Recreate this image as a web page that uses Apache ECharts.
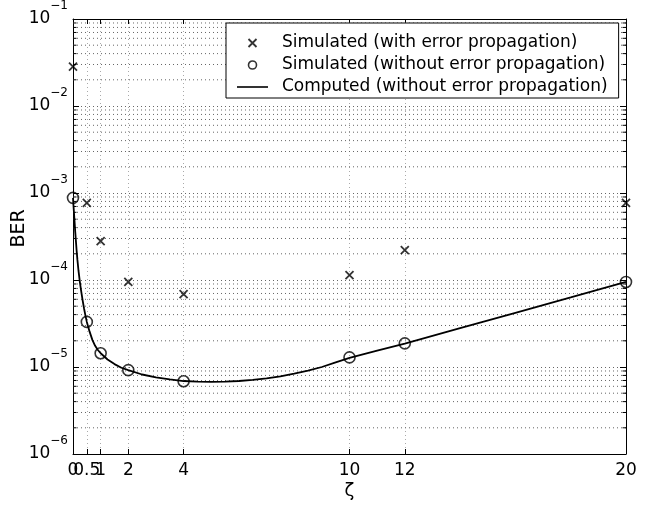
<!DOCTYPE html>
<html>
<head>
<meta charset="utf-8">
<script src="https://cdn.jsdelivr.net/npm/echarts@6/dist/echarts.min.js"></script>
<style>html,body{margin:0;padding:0;background:#fff}#c{width:653px;height:506px}</style>
</head>
<body>
<div id="c"></div>
<script>
// ---- data ----
const xTicks = [0, 0.5, 1, 2, 4, 10, 12, 20];
const xLabelsMain = [0, 1, 2, 4, 10, 12, 20];
const xLabelsExtra = [0.5];
const simX = [0, 0.5, 1, 2, 4, 10, 12, 20];
const simWithErr = [2.83e-2, 7.7e-4, 2.8e-4, 9.5e-5, 6.9e-5, 1.14e-4, 2.2e-4, 7.7e-4];
const simWithoutErr = [8.8e-4, 3.3e-5, 1.44e-5, 9.2e-6, 6.85e-6, 1.29e-5, 1.87e-5, 9.5e-5];
const compX = [0, 0.02, 0.04, 0.06, 0.08, 0.1, 0.13, 0.16, 0.2, 0.25, 0.3, 0.35, 0.4, 0.45, 0.5, 0.6, 0.7, 0.8, 0.9, 1.0,
  1.25, 1.5, 1.75, 2.0, 2.5, 3.0, 3.5, 4.0, 4.5, 5, 5.5, 6, 6.5, 7, 7.5, 8, 8.5, 9, 9.5, 10, 11, 12, 14, 16, 18, 20];
const compY = [8.8e-4, 7.0e-4, 5.6e-4, 4.5e-4, 3.6e-4, 2.95e-4, 2.2e-4, 1.7e-4, 1.27e-4, 9.4e-5, 7.3e-5, 5.8e-5, 4.7e-5, 3.9e-5, 3.3e-5, 2.55e-5, 2.05e-5, 1.75e-5, 1.57e-5, 1.44e-5,
  1.22e-5, 1.08e-5, 9.8e-6, 9.2e-6, 8.2e-6, 7.6e-6, 7.2e-6, 6.9e-6, 6.8e-6, 6.75e-6, 6.78e-6, 6.9e-6, 7.1e-6, 7.4e-6, 7.8e-6, 8.4e-6, 9.1e-6, 1.0e-5, 1.13e-5, 1.27e-5, 1.54e-5, 1.86e-5, 2.8e-5, 4.2e-5, 6.3e-5, 9.5e-5];
const yMin = 1e-6, yMax = 1e-1;
const seriesNames = ['Simulated (with error propagation)', 'Simulated (without error propagation)', 'Computed (without error propagation)'];
// minor log ticks (2..9 in each decade)
const minorTicks = [];
for (let e = -6; e < -1; e++) for (let d = 2; d <= 9; d++) minorTicks.push(d * Math.pow(10, e));

const FONT = 'DejaVu Sans, Liberation Sans, Arial, sans-serif';
const crossPath = 'path://M0,0L10,10M10,0L0,10';
const barPath = 'path://M0,0L31,0L31,1.6L0,1.6Z';

const chart = echarts.init(document.getElementById('c'), null, {renderer: 'canvas'});
const sup = v => {
  const k = Math.round(Math.log10(v));
  return '{b|10}{e|' + (k < 0 ? '\u2212' + (-k) : k) + '}';
};
const xLabelStyle = {margin: 8, fontSize: 17, color: '#000', fontFamily: FONT, hideOverlap: false};
const option = {
  backgroundColor: '#fff',
  animation: false,
  textStyle: {fontFamily: FONT},
  grid: {left: 73, right: 27, top: 19, bottom: 52, containLabel: false, outerBoundsMode: 'none'},
  xAxis: [{
    type: 'value', min: 0, max: 20, position: 'bottom',
    name: '\u03b6', nameLocation: 'middle', nameGap: 28, nameMoveOverlap: false,
    nameTextStyle: {fontSize: 18, color: '#000', fontFamily: FONT},
    axisLine: {show: true, onZero: false, lineStyle: {color: '#000', width: 1}},
    axisTick: {show: true, inside: true, length: 5, customValues: xTicks, lineStyle: {color: '#000'}},
    axisLabel: Object.assign({show: true, customValues: xLabelsMain, showMinLabel: true, showMaxLabel: true}, xLabelStyle),
    splitLine: {show: true, lineStyle: {color: '#aaa', type: [1, 3], width: 1}}
  }, {
    type: 'value', min: 0, max: 20, position: 'top',
    axisLine: {show: true, onZero: false, lineStyle: {color: '#000', width: 1}},
    axisTick: {show: true, inside: true, length: 5, customValues: xTicks, lineStyle: {color: '#000'}},
    axisLabel: {show: false},
    splitLine: {show: false}
  }, {
    type: 'value', min: 0, max: 20, position: 'bottom', offset: 0,
    axisLine: {show: false, onZero: false},
    axisTick: {show: false, customValues: xLabelsExtra},
    axisLabel: Object.assign({show: true, customValues: xLabelsExtra, showMinLabel: true, showMaxLabel: true}, xLabelStyle),
    splitLine: {show: false}
  }],
  yAxis: [{
    type: 'log', logBase: 10, min: yMin, max: yMax, position: 'left',
    name: 'BER', nameLocation: 'middle', nameGap: 44, nameMoveOverlap: false,
    nameTextStyle: {fontSize: 19, color: '#000', fontFamily: FONT, padding: [0, 0, 0, 16]},
    axisLine: {show: true, onZero: false, lineStyle: {color: '#000', width: 1}},
    axisTick: {show: true, inside: true, length: 6, lineStyle: {color: '#000'}},
    axisLabel: {
      show: true, margin: 5, color: '#000', fontFamily: FONT,
      formatter: sup,
      rich: {
        b: {fontSize: 17, lineHeight: 38, fontFamily: FONT, color: '#000'},
        e: {fontSize: 12, lineHeight: 16, verticalAlign: 'top', fontFamily: FONT, color: '#000'}
      }
    },
    splitLine: {show: true, lineStyle: {color: '#666', type: [1, 3], width: 1}}
  }, {
    type: 'log', logBase: 10, min: yMin, max: yMax, position: 'right',
    axisLine: {show: true, onZero: false, lineStyle: {color: '#000', width: 1}},
    axisTick: {show: true, inside: true, length: 6, lineStyle: {color: '#000'}},
    axisLabel: {show: false},
    splitLine: {show: false}
  }],
  legend: {
    show: true, orient: 'vertical', left: 226, top: 23,
    padding: [10, 11, 1, 11], itemGap: 2, itemWidth: 31, itemHeight: 8,
    symbolKeepAspect: true,
    backgroundColor: '#fff', borderColor: '#000', borderWidth: 1,
    textStyle: {fontSize: 17, color: '#000', fontFamily: FONT, lineHeight: 20, padding: [0, 0, 0, 9]},
    data: [
      {name: seriesNames[0], icon: crossPath, itemStyle: {color: 'rgba(0,0,0,0)', borderColor: '#000', borderWidth: 1.8}},
      {name: seriesNames[1], icon: 'circle', itemStyle: {color: 'rgba(0,0,0,0)', borderColor: '#000', borderWidth: 1.6}},
      {name: seriesNames[2], icon: barPath, itemStyle: {color: '#000', borderWidth: 0}}
    ]
  },
  series: [
    {
      name: 'minorGrid', type: 'custom', xAxisIndex: 0, yAxisIndex: 0, silent: true, z: 1,
      data: minorTicks.map(v => [0, v]),
      renderItem: function (params, api) {
        const v = api.value(1);
        const a = api.coord([0, v]);
        const b = api.coord([20, v]);
        return {
          type: 'group',
          children: [
            {type: 'line', shape: {x1: a[0], y1: a[1], x2: b[0], y2: b[1]}, style: {stroke: '#666', lineWidth: 1, lineDash: [1, 3]}},
            {type: 'line', shape: {x1: a[0], y1: a[1], x2: a[0] + 3.5, y2: a[1]}, style: {stroke: '#000', lineWidth: 1}},
            {type: 'line', shape: {x1: b[0] - 3.5, y1: b[1], x2: b[0], y2: b[1]}, style: {stroke: '#000', lineWidth: 1}}
          ]
        };
      }
    },
    {
      name: seriesNames[2], type: 'line', z: 3,
      data: compX.map((x, i) => [x, compY[i]]),
      symbol: 'none', smooth: false,
      lineStyle: {color: '#000', width: 1.8},
      itemStyle: {color: '#000'}
    },
    {
      name: seriesNames[1], type: 'scatter', z: 4,
      data: simX.map((x, i) => [x, simWithoutErr[i]]),
      symbol: 'circle', symbolSize: 11,
      itemStyle: {color: 'rgba(0,0,0,0)', borderColor: '#000', borderWidth: 1.6}
    },
    {
      name: seriesNames[0], type: 'scatter', z: 4,
      data: simX.map((x, i) => [x, simWithErr[i]]),
      symbol: crossPath, symbolSize: 8,
      itemStyle: {color: 'rgba(0,0,0,0)', borderColor: '#000', borderWidth: 1.8}
    }
  ]
};
chart.setOption(option);
</script>
</body>
</html>
